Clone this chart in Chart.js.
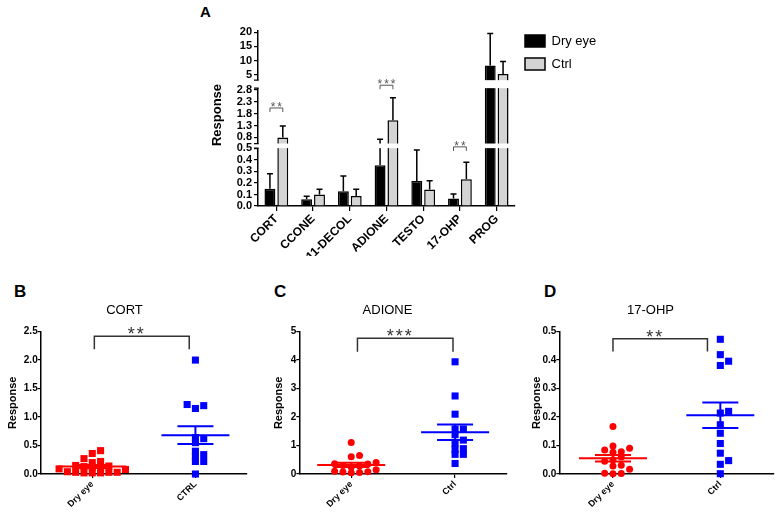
<!DOCTYPE html>
<html lang="en">
<head>
<meta charset="UTF-8" />
<title>Steroid response</title>
<script src="https://cdn.jsdelivr.net/npm/chart.js"></script>
<style>
  body { margin: 0; width: 779px; height: 527px; position: relative; overflow: hidden; background: #fff;
         font-family: Arial, "Liberation Sans", sans-serif; }
  .panel { position: absolute; }
  .letra { position: absolute; font-weight: bold; color: #000; line-height: 1; }
</style>
</head>
<body>
<div class="letra" style="left:200px;top:4px;font-size:15px">A</div>
<div class="letra" style="left:14px;top:283px;font-size:17px">B</div>
<div class="letra" style="left:274px;top:283px;font-size:17px">C</div>
<div class="letra" style="left:544px;top:283px;font-size:17px">D</div>

<div class="panel" style="left:195px;top:0;width:440px;height:265px"><canvas id="chartA"></canvas></div>
<div class="panel" style="left:0;top:270px;width:262px;height:257px"><canvas id="chartB"></canvas></div>
<div class="panel" style="left:260px;top:270px;width:262px;height:257px"><canvas id="chartC"></canvas></div>
<div class="panel" style="left:520px;top:270px;width:259px;height:257px"><canvas id="chartD"></canvas></div>

<script>
// ---- Panel A: medias y SEM por esteroide ----
const CATEGORIAS = ['CORT', 'CCONE', '11-DECOL', 'ADIONE', 'TESTO', '17-OHP', 'PROG'];
const SECO_MEDIA = [0.15, 0.058, 0.128, 0.354, 0.217, 0.065, 8.3];
const SECO_SEM   = [0.13, 0.026, 0.132, 0.366, 0.268, 0.04, 11.2];
const CTRL_MEDIA = [0.8, 0.099, 0.087, 1.52, 0.143, 0.232, 5.3];
const CTRL_SEM   = [0.48, 0.046, 0.058, 0.95, 0.077, 0.148, 4.4];
const TICKS_INF = [0, 0.1, 0.2, 0.3, 0.4, 0.5];
const TICKS_MED = [0.8, 1.3, 1.8, 2.3, 2.8];
const TICKS_SUP = [5, 10, 15, 20];
const SIGNIF_A = [
  { cat: 'CORT', eje: 'ym', valor: 2.04, texto: '**' },
  { cat: 'ADIONE', eje: 'ym', valor: 3.0, texto: '***' },
  { cat: '17-OHP', eje: 'yb', valor: 0.513, texto: '**' }
];

// ---- Paneles B-D: valores individuales ----
const GRUPOS_B = ['Dry eye', 'CTRL'];
const GRUPOS_CD = ['Dry eye', 'Ctrl'];
const CORT_SECO = [0.41, 0.36, 0.27, 0.22, 0.2, 0.15, 0.14, 0.13, 0.12, 0.12, 0.09, 0.08, 0.04, 0.03, 0.03, 0.03, 0.02, 0.02, 0.02];
const CORT_CTRL = [2.0, 1.22, 1.2, 1.15, 0.64, 0.62, 0.55, 0.40, 0.34, 0.31, 0.22, 0.22, 0.0];
const ADIONE_SECO = [1.11, 0.65, 0.61, 0.40, 0.36, 0.35, 0.30, 0.28, 0.25, 0.15, 0.10, 0.08, 0.07, 0.05, 0.04];
const ADIONE_CTRL = [3.94, 2.74, 2.10, 1.58, 1.58, 1.38, 1.19, 1.08, 0.89, 0.87, 0.69, 0.69, 0.37];
const OHP_SECO = [0.167, 0.098, 0.090, 0.084, 0.078, 0.076, 0.060, 0.050, 0.045, 0.031, 0.028, 0.017, 0.003, 0.002, 0.001];
const OHP_CTRL = [0.473, 0.419, 0.396, 0.381, 0.220, 0.214, 0.173, 0.143, 0.107, 0.073, 0.047, 0.034, 0.001];
const TICKS_B = [0, 0.5, 1, 1.5, 2, 2.5];
const TICKS_C = [0, 1, 2, 3, 4, 5];
const TICKS_D = [0, 0.1, 0.2, 0.3, 0.4, 0.5];

Chart.defaults.font.family = 'Arial, "Liberation Sans", sans-serif';
Chart.defaults.color = '#000';
Chart.defaults.animation = false;

// tramos del eje roto (abajo, medio, arriba)
const TRAMOS = {
  yb: { min: 0, max: 0.522, peso: 60, ticks: TICKS_INF },
  ym: { min: 0.445, max: 3.045, peso: 61.5, ticks: TICKS_MED },
  yt: { min: 1.77, max: 20.39, peso: 53, ticks: TICKS_SUP }
};

function tramo(vals, id) {
  const t = TRAMOS[id];
  return vals.map(v => v > t.min ? [t.min, Math.min(v, t.max)] : null);
}

const datasetsA = [];
[['Dry eye', SECO_MEDIA, '#000000', 'seco'], ['Ctrl', CTRL_MEDIA, '#d4d4d4', 'ctrl']].forEach(([label, vals, color, stack]) => {
  ['yb', 'ym', 'yt'].forEach(id => {
    datasetsA.push({ label, data: tramo(vals, id), yAxisID: id, stack,
      backgroundColor: color, borderColor: '#000', borderWidth: 1.5,
      categoryPercentage: 0.7, barPercentage: 0.85 });
  });
});

const escalasA = {
  x: {
    type: 'category', offset: true,
    grid: { offset: false, drawOnChartArea: false, color: '#000', tickLength: 5, lineWidth: 1.2 },
    border: { color: '#000', width: 1.5 },
    ticks: { font: { weight: 'bold', size: 12 }, minRotation: 45, maxRotation: 45, padding: 1, autoSkip: false },
    afterFit: s => { s.height = 50; }
  }
};
['yb', 'ym', 'yt'].forEach(id => {
  const t = TRAMOS[id];
  escalasA[id] = {
    type: 'linear', position: 'left', stack: 'roto', stackWeight: t.peso, stacked: false,
    min: t.min, max: t.max,
    afterBuildTicks: s => { s.ticks = t.ticks.map(v => ({ value: v })); },
    ticks: { font: { weight: 'bold', size: 11 }, padding: 2, autoSkip: false,
             callback: v => id === 'yt' ? String(v) : v.toFixed(1) },
    grid: { drawOnChartArea: false, color: '#000', tickLength: 4, lineWidth: 1.2 },
    border: { color: '#000', width: 1.5 },
    title: { display: id === 'ym', text: 'Response', font: { weight: 'bold', size: 13 } },
    afterFit: s => { s.width = 52; }
  };
});

// barras de error, cortes del eje y corchetes de significación
const roturas = {
  id: 'roturas',
  afterDatasetsDraw(chart) {
    const { ctx, chartArea: area } = chart;
    const { yb, ym, yt } = chart.scales;
    const pix = v => v <= yb.max ? yb.getPixelForValue(v) : v <= ym.max ? ym.getPixelForValue(v) : yt.getPixelForValue(v);
    const metaSeco = chart.getDatasetMeta(0), metaCtrl = chart.getDatasetMeta(3);
    ctx.save();
    ctx.strokeStyle = '#000';
    ctx.lineWidth = 1.5;
    [[SECO_MEDIA, SECO_SEM, metaSeco], [CTRL_MEDIA, CTRL_SEM, metaCtrl]].forEach(([m, s, meta]) => {
      m.forEach((v, j) => {
        const bx = meta.data[j].x;
        const y0 = pix(v), y1 = pix(v + s[j]);
        ctx.beginPath();
        ctx.moveTo(bx, y0); ctx.lineTo(bx, y1);
        ctx.moveTo(bx - 3, y1); ctx.lineTo(bx + 3, y1);
        ctx.stroke();
      });
    });
    // huecos del eje
    ctx.fillStyle = '#fff';
    const cortes = [[yb.top, 2.3], [ym.top, 4]];
    cortes.forEach(([yc, h]) => ctx.fillRect(area.left - 2, yc - h, area.right - area.left + 3, 2 * h));
    ctx.lineWidth = 1.2;
    ctx.beginPath();
    cortes.forEach(([yc, h]) => {
      ctx.moveTo(area.left - 4, yc - h); ctx.lineTo(area.left + 0.7, yc - h);
      ctx.moveTo(area.left - 4, yc + h); ctx.lineTo(area.left + 0.7, yc + h);
    });
    ctx.stroke();
    // corchetes
    ctx.strokeStyle = '#555';
    ctx.fillStyle = '#555';
    ctx.lineWidth = 1;
    ctx.font = '12px Arial, "Liberation Sans", sans-serif';
    ctx.textAlign = 'center';
    ctx.textBaseline = 'alphabetic';
    if ('letterSpacing' in ctx) ctx.letterSpacing = '2px';
    SIGNIF_A.forEach(a => {
      const j = CATEGORIAS.indexOf(a.cat);
      const x1 = metaSeco.data[j].x, x2 = metaCtrl.data[j].x;
      const y = chart.scales[a.eje].getPixelForValue(a.valor);
      ctx.beginPath();
      ctx.moveTo(x1, y + 4); ctx.lineTo(x1, y); ctx.lineTo(x2, y); ctx.lineTo(x2, y + 4);
      ctx.stroke();
      ctx.fillText(a.texto, (x1 + x2) / 2 + 1, y + 3);
    });
    ctx.restore();
  }
};

new Chart(document.getElementById('chartA'), {
  type: 'bar',
  data: { labels: CATEGORIAS, datasets: datasetsA },
  options: {
    responsive: true, maintainAspectRatio: false, events: [],
    layout: { padding: { left: 11, top: 31, right: 30, bottom: 9 } },
    scales: escalasA,
    plugins: {
      tooltip: { enabled: false },
      legend: {
        position: 'right', align: 'start', maxWidth: 90,
        title: { display: true, text: ' ', font: { size: 1 }, padding: { top: -7.7, bottom: 0 } },
        labels: {
          boxWidth: 20, boxHeight: 12, padding: 10, color: '#000', font: { size: 13 },
          filter: (item, data) => data.datasets[item.datasetIndex].yAxisID === 'yb'
        }
      }
    }
  },
  plugins: [roturas]
});

// ---- Paneles de dispersión ----
const resumen = {
  id: 'resumen',
  afterDatasetsDraw(chart, args, opts) {
    const { ctx } = chart;
    const { x, y } = chart.scales;
    ctx.save();
    chart.data.datasets.forEach((ds, g) => {
      const vals = ds.data.map(p => p.y);
      const n = vals.length;
      const media = vals.reduce((a, b) => a + b, 0) / n;
      const de = Math.sqrt(vals.reduce((a, b) => a + (b - media) ** 2, 0) / (n - 1));
      const sem = de / Math.sqrt(n);
      const cx = x.getPixelForValue(g + 1);
      const ymed = y.getPixelForValue(media);
      const ya = y.getPixelForValue(media + sem), yb = y.getPixelForValue(media - sem);
      ctx.strokeStyle = ds.borderColor;
      ctx.lineWidth = 2;
      ctx.beginPath();
      ctx.moveTo(cx - 34, ymed); ctx.lineTo(cx + 34, ymed);
      ctx.moveTo(cx - 18, ya); ctx.lineTo(cx + 18, ya);
      ctx.moveTo(cx - 18, yb); ctx.lineTo(cx + 18, yb);
      ctx.moveTo(cx, ya); ctx.lineTo(cx, yb);
      ctx.stroke();
    });
    const c = opts.corchete;
    const x1 = x.getPixelForValue(c.x1), x2 = x.getPixelForValue(c.x2);
    const yt = y.getPixelForValue(c.arriba), yl = y.getPixelForValue(c.patas);
    ctx.strokeStyle = '#333';
    ctx.lineWidth = 1.5;
    ctx.beginPath();
    ctx.moveTo(x1, yl); ctx.lineTo(x1, yt); ctx.lineTo(x2, yt); ctx.lineTo(x2, yl);
    ctx.stroke();
    ctx.fillStyle = '#333';
    ctx.font = '18px Arial, "Liberation Sans", sans-serif';
    ctx.textAlign = 'center';
    if ('letterSpacing' in ctx) ctx.letterSpacing = '2px';
    ctx.fillText(c.texto, (x1 + x2) / 2 - 5, yt + 4);
    ctx.restore();
  }
};

// reparte los puntos a lo ancho para que no se tapen
function enjambre(chart, sep, fila) {
  const { x, y } = chart.scales;
  const pxUnidad = x.getPixelForValue(2) - x.getPixelForValue(1);
  chart.data.datasets.forEach((ds, g) => {
    const colocados = [];
    const orden = ds.data.map((p, i) => i).sort((a, b) => ds.data[a].y - ds.data[b].y);
    orden.forEach(i => {
      const py = y.getPixelForValue(ds.data[i].y);
      for (let k = 0; k < 40; k++) {
        const off = (k % 2 ? 1 : -1) * Math.ceil(k / 2) * sep;
        if (colocados.every(c => Math.abs(c.x - off) >= sep - 0.1 || Math.abs(c.y - py) >= fila)) {
          colocados.push({ x: off, y: py });
          ds.data[i].x = g + 1 + off / pxUnidad;
          break;
        }
      }
    });
  });
  chart.update('none');
}

function panel(id, cfg) {
  const chart = new Chart(document.getElementById(id), {
    type: 'scatter',
    data: {
      datasets: [
        { label: cfg.grupos[0], data: cfg.seco.map(v => ({ x: 1, y: v })), backgroundColor: '#ff0000', borderColor: '#ff0000',
          pointStyle: cfg.estiloSeco, pointRadius: cfg.estiloSeco === 'rect' ? 5 : 3.5, pointBorderWidth: 0, clip: false },
        { label: cfg.grupos[1], data: cfg.ctrl.map(v => ({ x: 2, y: v })), backgroundColor: '#0000ff', borderColor: '#0000ff',
          pointStyle: 'rect', pointRadius: 5, pointBorderWidth: 0, clip: false }
      ]
    },
    options: {
      responsive: true, maintainAspectRatio: false, events: [],
      layout: { padding: { left: cfg.izq, top: 25, right: cfg.der, bottom: 8 } },
      scales: {
        x: {
          type: 'linear', min: 0.5, max: 2.5,
          afterBuildTicks: s => { s.ticks = [{ value: 1 }, { value: 2 }]; },
          ticks: { callback: v => cfg.grupos[v - 1], minRotation: 45, maxRotation: 45, font: { size: 9, weight: 'bold' }, padding: 1 },
          grid: { drawOnChartArea: false, color: '#000', tickLength: 4, lineWidth: 1.2 },
          border: { color: '#000', width: 1.5 },
          afterFit: s => { s.height = 45; }
        },
        y: {
          type: 'linear', min: cfg.ticks[0], max: cfg.ticks[cfg.ticks.length - 1],
          afterBuildTicks: s => { s.ticks = cfg.ticks.map(v => ({ value: v })); },
          ticks: { callback: cfg.formato, font: { size: 10, weight: 'bold' }, padding: 0, autoSkip: false },
          grid: { drawOnChartArea: false, color: '#000', tickLength: 3, lineWidth: 1.2 },
          border: { color: '#000', width: 1.5 },
          title: { display: true, text: 'Response', font: { size: 11, weight: 'bold' } },
          afterFit: s => { s.width = cfg.anchoY; }
        }
      },
      plugins: {
        legend: { display: false },
        tooltip: { enabled: false },
        title: { display: true, text: cfg.titulo, font: { size: 13, weight: 'normal' }, color: '#000', padding: { top: 8, bottom: 13 } },
        resumen: { corchete: cfg.corchete }
      }
    },
    plugins: [resumen]
  });
  enjambre(chart, 8.3, cfg.fila);
}

panel('chartB', {
  titulo: 'CORT', grupos: GRUPOS_B, seco: CORT_SECO, ctrl: CORT_CTRL, estiloSeco: 'rect', fila: 4,
  ticks: TICKS_B, formato: v => v.toFixed(1), izq: 2, der: 15, anchoY: 38.7,
  corchete: { x1: 1.02, x2: 1.94, arriba: 2.42, patas: 2.19, texto: '**' }
});
panel('chartC', {
  titulo: 'ADIONE', grupos: GRUPOS_CD, seco: ADIONE_SECO, ctrl: ADIONE_CTRL, estiloSeco: 'circle', fila: 5,
  ticks: TICKS_C, formato: v => String(v), izq: 8, der: 15, anchoY: 31.3,
  corchete: { x1: 1.06, x2: 1.98, arriba: 4.77, patas: 4.29, texto: '***' }
});
panel('chartD', {
  titulo: '17-OHP', grupos: GRUPOS_CD, seco: OHP_SECO, ctrl: OHP_CTRL, estiloSeco: 'circle', fila: 5,
  ticks: TICKS_D, formato: v => v.toFixed(1), izq: 6, der: 4, anchoY: 33.3,
  corchete: { x1: 1.0, x2: 1.88, arriba: 0.475, patas: 0.43, texto: '**' }
});
</script>
</body>
</html>
